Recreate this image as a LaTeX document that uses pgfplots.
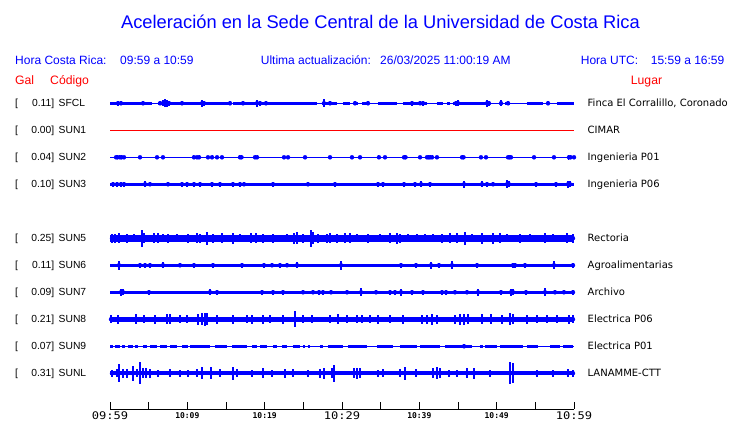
\documentclass[border=0pt]{standalone}
\usepackage{fontspec}
\setmainfont{Liberation Sans}
\newfontfamily\dejavu{DejaVu Sans}
\newfontfamily\monof{DejaVu Sans Mono}
\newfontfamily\monowide[FakeStretch=1.15]{DejaVu Sans Mono}
\usepackage{pgfplots}
\pgfplotsset{compat=1.18}
\definecolor{tblue}{RGB}{0,0,255}
\definecolor{tred}{RGB}{255,0,0}
\pgfplotsset{
  spk/.style={tblue, only marks, mark=none,
    error bars/.cd, y dir=both, y explicit, error mark=none,
    error bar style={line width=#1, tblue}},
  spk/.default=1.3pt,
}
\newcommand{\bigtick}[1]{{\monowide\fontsize{10.5}{12}\selectfont #1}}
\newcommand{\smalltick}[1]{\raisebox{1.7pt}{\monof\bfseries\fontsize{8}{9}\selectfont #1}}
\newcommand{\trow}[4]{%
  \node[anchor=base west, inner sep=0] at (15,#1) {[};
  \node[anchor=base east, inner sep=0] at (54.5,#1) {#2]};
  \node[anchor=base west, inner sep=0] at (58.5,#1) {#3};
  \node[anchor=base west, inner sep=0, font=\dejavu\fontsize{10}{12}\selectfont] at (587.5,#1) {#4};}
\begin{document}
\begin{tikzpicture}[x=1pt,y=1pt]
\path[use as bounding box] (0,0) rectangle (740,423);
% Titles
\node[anchor=base, inner sep=0, text=tblue, font=\fontsize{18.3}{22}\selectfont] at (380.5,394) {Aceleración en la Sede Central de la Universidad de Costa Rica};
\begin{scope}[every node/.style={anchor=base west, inner sep=0, text=tblue, font=\fontsize{12}{14}\selectfont}]
\node at (15,358) {Hora Costa Rica:};
\node at (120,358) {09:59 a 10:59};
\node at (260.7,358) {Ultima actualización:};
\node at (380,358) {26/03/2025 11:00:19 AM};
\node at (580.7,358) {Hora UTC:};
\node at (650.7,358) {15:59 a 16:59};
\end{scope}
\begin{scope}[every node/.style={anchor=base west, inner sep=0, text=tred, font=\fontsize{12.2}{14}\selectfont}]
\node at (15,338.7) {Gal};
\node at (50,338.7) {Código};
\node at (630.7,338.7) {Lugar};
\end{scope}
\begin{scope}[every node/.style={font=\fontsize{10.3}{12}\selectfont}]
\trow{316.2}{0.11}{SFCL}{Finca El Corralillo, Coronado}
\trow{289.2}{0.00}{SUN1}{CIMAR}
\trow{262.2}{0.04}{SUN2}{Ingenieria P01}
\trow{235.2}{0.10}{SUN3}{Ingenieria P06}
\trow{181.2}{0.25}{SUN5}{Rectoria}
\trow{154.2}{0.11}{SUN6}{Agroalimentarias}
\trow{127.2}{0.09}{SUN7}{Archivo}
\trow{100.2}{0.21}{SUN8}{Electrica P06}
\trow{73.2}{0.07}{SUN9}{Electrica P01}
\trow{46.2}{0.31}{SUNL}{LANAMME-CTT}
\end{scope}
\begin{axis}[
  at={(110pt,14pt)}, anchor=south west,
  scale only axis, width=464pt, height=319pt,
  xmin=0, xmax=60, ymin=-409, ymax=-90,
  clip=false,
  axis x line=bottom, axis y line=none,
  axis line style={-, black, line width=0.9pt},
  xtick={0,5,...,60},
  xticklabels={\bigtick{09:59},,\smalltick{10:09},,\smalltick{10:19},,\bigtick{10:29},,\smalltick{10:39},,\smalltick{10:49},,\bigtick{10:59}},
  xtick align=inside,
  major tick length=7pt,
  every tick/.style={black, line width=0.9pt},
  xticklabel style={anchor=base, inner sep=0pt, yshift=-11pt},
]
% ---- SFCL ----
\addplot[tblue, line width=1pt] coordinates {(0,-103.3) (60,-103.3)};
\addplot[tblue, line width=3pt, unbounded coords=jump] coordinates {
(0,-103.3) (5.43,-103.3) (5.43,nan)
(6.21,-103.3) (15.52,-103.3) (15.52,nan)
(15.9,-103.3) (26.77,-103.3) (26.77,nan)
(27.41,-103.3) (29.35,-103.3) (29.35,nan)
(30.13,-103.3) (31.03,-103.3) (31.03,nan)
(31.68,-103.3) (32.07,-103.3) (32.07,nan)
(32.59,-103.3) (33.36,-103.3) (33.36,nan)
(34.66,-103.3) (37.11,-103.3) (37.11,nan)
(37.89,-103.3) (40.99,-103.3) (40.99,nan)
(42.28,-103.3) (43.06,-103.3) (43.06,nan)
(43.58,-103.3) (43.97,-103.3) (43.97,nan)
(44.35,-103.3) (49.14,-103.3) (49.14,nan)
(51.08,-103.3) (51.72,-103.3) (51.72,nan)
(53.92,-103.3) (55.99,-103.3) (55.99,nan)
(57.8,-103.3) (60,-103.3)};
\addplot[spk] coordinates {
(1.03,-103.3) +- (0,2.5) (1.42,-103.3) +- (0,2) (4.27,-103.3) +- (0,2)
(6.47,-103.3) +- (0,2) (6.85,-103.3) +- (0,3) (7.11,-103.3) +- (0,4)
(7.37,-103.3) +- (0,3.5) (7.63,-103.3) +- (0,2.5) (9.31,-103.3) +- (0,2)
(11.90,-103.3) +- (0,3.5) (12.15,-103.3) +- (0,2.5) (15.52,-103.3) +- (0,2)
(17.2,-103.3) +- (0,2) (19.01,-103.3) +- (0,3.5) (19.4,-103.3) +- (0,2.5)
(20.17,-103.3) +- (0,2) (27.67,-103.3) +- (0,4) (28.45,-103.3) +- (0,2)
(31.68,-103.3) +- (0,2) (33.36,-103.3) +- (0,2) (39.05,-103.3) +- (0,2.5)
(40.09,-103.3) +- (0,2) (40.47,-103.3) +- (0,2.5) (44.74,-103.3) +- (0,2.5)
(45.0,-103.3) +- (0,3) (48.75,-103.3) +- (0,3.5) (49.0,-103.3) +- (0,2.5)
(50.56,-103.3) +- (0,3) (51.47,-103.3) +- (0,2) (56.64,-103.3) +- (0,2)};
% ---- SUN1 ----
\addplot[tred, line width=1.3pt] coordinates {(0,-130.3) (60,-130.3)};
% ---- SUN2 ----
\addplot[tblue, line width=1.2pt] coordinates {(0,-157.3) (60,-157.3)};
\addplot[spk=1pt] coordinates {
(0.78,-157.3) +- (0,2) (0.97,-157.3) +- (0,2) (1.29,-157.3) +- (0,2)
(1.49,-157.3) +- (0,2) (1.81,-157.3) +- (0,1.7) (3.88,-157.3) +- (0,1.7)
(6.08,-157.3) +- (0,1.7) (6.85,-157.3) +- (0,1.3) (10.86,-157.3) +- (0,2)
(11.25,-157.3) +- (0,1.7) (11.51,-157.3) +- (0,2) (12.67,-157.3) +- (0,1.5)
(13.19,-157.3) +- (0,2) (13.84,-157.3) +- (0,1.7) (14.48,-157.3) +- (0,1.7)
(16.81,-157.3) +- (0,2) (17.0,-157.3) +- (0,2) (18.75,-157.3) +- (0,2)
(19.01,-157.3) +- (0,2) (22.5,-157.3) +- (0,1.7) (23.02,-157.3) +- (0,1.5)
(25.22,-157.3) +- (0,1.7) (28.45,-157.3) +- (0,1.5) (31.29,-157.3) +- (0,1.7)
(32.33,-157.3) +- (0,1.5) (34.78,-157.3) +- (0,2) (35.56,-157.3) +- (0,1.7)
(38.02,-157.3) +- (0,2) (38.21,-157.3) +- (0,2) (40.09,-157.3) +- (0,1.5)
(40.99,-157.3) +- (0,1.7) (41.19,-157.3) +- (0,2) (41.38,-157.3) +- (0,2)
(41.64,-157.3) +- (0,2) (42.28,-157.3) +- (0,1.7) (45.52,-157.3) +- (0,2)
(45.71,-157.3) +- (0,1.7) (47.97,-157.3) +- (0,1.7) (48.62,-157.3) +- (0,1.7)
(51.47,-157.3) +- (0,2) (51.66,-157.3) +- (0,2) (51.85,-157.3) +- (0,2)
(54.83,-157.3) +- (0,1.5) (57.41,-157.3) +- (0,1.7) (59.35,-157.3) +- (0,2.5)
(59.55,-157.3) +- (0,2) (60.0,-157.3) +- (0,1.5)};
% ---- SUN3 ----
\addplot[tblue, line width=3pt] coordinates {(0,-184.3) (60,-184.3)};
\addplot[spk] coordinates {
(0.39,-184.3) +- (0,2.5) (0.91,-184.3) +- (0,2.5) (1.42,-184.3) +- (0,2.5)
(1.81,-184.3) +- (0,2.5) (4.53,-184.3) +- (0,3) (5.17,-184.3) +- (0,2)
(7.5,-184.3) +- (0,2) (9.31,-184.3) +- (0,2.5) (9.96,-184.3) +- (0,2.5)
(10.86,-184.3) +- (0,2.5) (11.64,-184.3) +- (0,2.5) (13.19,-184.3) +- (0,2.5)
(14.22,-184.3) +- (0,2.5) (15.9,-184.3) +- (0,2.5) (16.81,-184.3) +- (0,2.5)
(17.33,-184.3) +- (0,2) (21.08,-184.3) +- (0,2.5) (25.6,-184.3) +- (0,2)
(29.09,-184.3) +- (0,2.5) (34.66,-184.3) +- (0,2.5) (35.3,-184.3) +- (0,2.5)
(38.02,-184.3) +- (0,2.5) (39.44,-184.3) +- (0,2.5) (40.22,-184.3) +- (0,3)
(41.38,-184.3) +- (0,2.5) (45.78,-184.3) +- (0,3.5) (48.1,-184.3) +- (0,3)
(48.75,-184.3) +- (0,2.5) (49.53,-184.3) +- (0,2) (51.34,-184.3) +- (0,4)
(51.59,-184.3) +- (0,3) (55.09,-184.3) +- (0,2.5) (57.67,-184.3) +- (0,2.5)
(59.22,-184.3) +- (0,3.5) (59.48,-184.3) +- (0,3)};
% ---- SUN5 ----
\addplot[tblue, line width=6.5pt] coordinates {(0,-238.3) (60,-238.3)};
\addplot[spk=1.6pt] coordinates {
(0.26,-238.3) +- (0,4.5) (0.65,-238.3) +- (0,4.5) (1.16,-238.3) +- (0,5)
(2.2,-238.3) +- (0,4.5) (3.1,-238.3) +- (0,4) (4.14,-238.3) +- (0,8.5)
(4.4,-238.3) +- (0,5) (5.69,-238.3) +- (0,5) (6.21,-238.3) +- (0,5)
(6.85,-238.3) +- (0,4) (7.5,-238.3) +- (0,4.5) (8.66,-238.3) +- (0,4)
(10.09,-238.3) +- (0,4.5) (11.25,-238.3) +- (0,5) (11.64,-238.3) +- (0,4.5)
(12.54,-238.3) +- (0,6.5) (13.32,-238.3) +- (0,4.5) (14.48,-238.3) +- (0,5)
(15.9,-238.3) +- (0,5.5) (16.81,-238.3) +- (0,4) (18.23,-238.3) +- (0,5)
(18.88,-238.3) +- (0,5) (19.78,-238.3) +- (0,4.5) (21.08,-238.3) +- (0,4.5)
(22.89,-238.3) +- (0,4) (23.79,-238.3) +- (0,5.5) (24.18,-238.3) +- (0,6)
(24.96,-238.3) +- (0,4.5) (25.99,-238.3) +- (0,8.7) (26.25,-238.3) +- (0,6)
(26.9,-238.3) +- (0,4.5) (28.06,-238.3) +- (0,4.5) (28.45,-238.3) +- (0,5)
(29.35,-238.3) +- (0,4.5) (30.39,-238.3) +- (0,5) (31.03,-238.3) +- (0,5)
(31.94,-238.3) +- (0,4) (33.36,-238.3) +- (0,4.5) (34.91,-238.3) +- (0,4)
(36.21,-238.3) +- (0,5) (37.11,-238.3) +- (0,5.5) (37.5,-238.3) +- (0,4.5)
(38.53,-238.3) +- (0,4) (39.7,-238.3) +- (0,4) (40.73,-238.3) +- (0,4)
(41.77,-238.3) +- (0,4) (42.93,-238.3) +- (0,4.5) (43.97,-238.3) +- (0,5)
(44.87,-238.3) +- (0,5) (45.91,-238.3) +- (0,6.5) (46.81,-238.3) +- (0,4)
(48.1,-238.3) +- (0,5.5) (49.53,-238.3) +- (0,5.5) (50.43,-238.3) +- (0,5)
(51.34,-238.3) +- (0,4) (53.02,-238.3) +- (0,4.5) (54.31,-238.3) +- (0,4)
(56.25,-238.3) +- (0,5) (57.28,-238.3) +- (0,4) (59.09,-238.3) +- (0,5)
(59.87,-238.3) +- (0,4.5)};
% ---- SUN6 ----
\addplot[tblue, line width=3pt] coordinates {(0,-265.3) (60,-265.3)};
\addplot[spk] coordinates {
(1.16,-265.3) +- (0,4.5) (3.88,-265.3) +- (0,2.5) (4.53,-265.3) +- (0,2.5)
(5.17,-265.3) +- (0,2.5) (6.85,-265.3) +- (0,3) (9.05,-265.3) +- (0,2)
(10.86,-265.3) +- (0,2.5) (13.32,-265.3) +- (0,2.5) (17.07,-265.3) +- (0,2.5)
(19.91,-265.3) +- (0,2.5) (20.95,-265.3) +- (0,2) (21.98,-265.3) +- (0,2.5)
(22.89,-265.3) +- (0,2) (24.18,-265.3) +- (0,3) (29.87,-265.3) +- (0,4.5)
(37.63,-265.3) +- (0,2.5) (39.57,-265.3) +- (0,2.5) (41.51,-265.3) +- (0,3.5)
(42.54,-265.3) +- (0,2.5) (44.22,-265.3) +- (0,4) (47.46,-265.3) +- (0,2.5)
(52.11,-265.3) +- (0,2.5) (52.37,-265.3) +- (0,2.5) (53.66,-265.3) +- (0,2.5)
(57.41,-265.3) +- (0,4) (59.87,-265.3) +- (0,2.5)};
% ---- SUN7 ----
\addplot[tblue, line width=3pt] coordinates {(0,-292.3) (60,-292.3)};
\addplot[spk] coordinates {
(1.42,-292.3) +- (0,3.5) (1.68,-292.3) +- (0,3) (5.04,-292.3) +- (0,2.5)
(12.93,-292.3) +- (0,3) (13.84,-292.3) +- (0,2.5) (19.66,-292.3) +- (0,2.5)
(21.08,-292.3) +- (0,2.5) (22.37,-292.3) +- (0,2.5) (24.96,-292.3) +- (0,2)
(26.25,-292.3) +- (0,2) (27.03,-292.3) +- (0,2.5) (27.54,-292.3) +- (0,2.5)
(28.58,-292.3) +- (0,2) (30.65,-292.3) +- (0,2) (32.46,-292.3) +- (0,4)
(34.4,-292.3) +- (0,2) (36.21,-292.3) +- (0,2.5) (36.85,-292.3) +- (0,2.5)
(37.63,-292.3) +- (0,3.5) (39.05,-292.3) +- (0,2.5) (40.47,-292.3) +- (0,2.5)
(42.93,-292.3) +- (0,2.5) (43.45,-292.3) +- (0,2.5) (44.61,-292.3) +- (0,2)
(46.16,-292.3) +- (0,2) (47.59,-292.3) +- (0,3.5) (50.56,-292.3) +- (0,2.5)
(51.85,-292.3) +- (0,3.5) (52.11,-292.3) +- (0,3) (53.79,-292.3) +- (0,2.5)
(56.25,-292.3) +- (0,4) (57.54,-292.3) +- (0,2) (58.7,-292.3) +- (0,2)
(59.87,-292.3) +- (0,2.5)};
% ---- SUN8 ----
\addplot[tblue, line width=5pt] coordinates {(0,-319.3) (60,-319.3)};
\addplot[spk=1.5pt] coordinates {
(0.13,-319.3) +- (0,4) (1.03,-319.3) +- (0,4.5) (3.36,-319.3) +- (0,5)
(4.4,-319.3) +- (0,4) (5.82,-319.3) +- (0,4.5) (7.37,-319.3) +- (0,5)
(7.76,-319.3) +- (0,5) (9.05,-319.3) +- (0,4) (9.96,-319.3) +- (0,4)
(11.38,-319.3) +- (0,5.5) (11.9,-319.3) +- (0,6) (12.28,-319.3) +- (0,6.5)
(12.54,-319.3) +- (0,6) (13.84,-319.3) +- (0,4.5) (15.9,-319.3) +- (0,4.5)
(17.72,-319.3) +- (0,4) (18.36,-319.3) +- (0,4.5) (19.78,-319.3) +- (0,4.5)
(20.69,-319.3) +- (0,4) (22.37,-319.3) +- (0,4.5) (23.92,-319.3) +- (0,8)
(24.96,-319.3) +- (0,4) (26.12,-319.3) +- (0,4) (28.45,-319.3) +- (0,4)
(29.48,-319.3) +- (0,5) (30.65,-319.3) +- (0,4) (31.94,-319.3) +- (0,4)
(32.59,-319.3) +- (0,4) (33.62,-319.3) +- (0,4) (34.66,-319.3) +- (0,4.5)
(36.21,-319.3) +- (0,4) (37.89,-319.3) +- (0,4.5) (40.34,-319.3) +- (0,4.5)
(40.99,-319.3) +- (0,4.5) (41.64,-319.3) +- (0,5.5) (42.28,-319.3) +- (0,4.5)
(44.61,-319.3) +- (0,4.5) (45.26,-319.3) +- (0,5.5) (45.78,-319.3) +- (0,5.5)
(46.29,-319.3) +- (0,5) (48.1,-319.3) +- (0,5) (49.27,-319.3) +- (0,5)
(50.69,-319.3) +- (0,4.5) (51.72,-319.3) +- (0,6) (52.11,-319.3) +- (0,5)
(53.92,-319.3) +- (0,4.5) (55.21,-319.3) +- (0,4) (56.51,-319.3) +- (0,4)
(57.8,-319.3) +- (0,4) (59.35,-319.3) +- (0,4.5) (59.87,-319.3) +- (0,4)};
% ---- SUN9 ----
\addplot[tblue, line width=1.2pt] coordinates {(0,-346.3) (60,-346.3)};
\addplot[tblue, line width=2.7pt, unbounded coords=jump] coordinates {
(0,-346.3) (0.39,-346.3) (0.39,nan)
(0.65,-346.3) (1.29,-346.3) (1.29,nan)
(1.55,-346.3) (1.94,-346.3) (1.94,nan)
(2.33,-346.3) (2.97,-346.3) (2.97,nan)
(3.23,-346.3) (3.62,-346.3) (3.62,nan)
(4.27,-346.3) (4.78,-346.3) (4.78,nan)
(5.17,-346.3) (6.08,-346.3) (6.08,nan)
(6.47,-346.3) (7.37,-346.3) (7.37,nan)
(7.76,-346.3) (8.66,-346.3) (8.66,nan)
(9.31,-346.3) (10.09,-346.3) (10.09,nan)
(10.34,-346.3) (12.93,-346.3) (12.93,nan)
(13.58,-346.3) (15.13,-346.3) (15.13,nan)
(15.78,-346.3) (17.72,-346.3) (17.72,nan)
(18.36,-346.3) (19.01,-346.3) (19.01,nan)
(19.4,-346.3) (20.3,-346.3) (20.3,nan)
(21.08,-346.3) (21.59,-346.3) (21.59,nan)
(22.24,-346.3) (22.89,-346.3) (22.89,nan)
(23.66,-346.3) (24.57,-346.3) (24.57,nan)
(24.96,-346.3) (25.22,-346.3) (25.22,nan)
(25.6,-346.3) (25.86,-346.3) (25.86,nan)
(27.15,-346.3) (27.54,-346.3) (27.54,nan)
(28.19,-346.3) (30.13,-346.3) (30.13,nan)
(30.78,-346.3) (33.23,-346.3) (33.23,nan)
(34.53,-346.3) (36.59,-346.3) (36.59,nan)
(37.5,-346.3) (39.7,-346.3) (39.7,nan)
(40.09,-346.3) (42.67,-346.3) (42.67,nan)
(43.32,-346.3) (46.81,-346.3) (46.81,nan)
(47.84,-346.3) (48.23,-346.3) (48.23,nan)
(48.49,-346.3) (50.04,-346.3) (50.04,nan)
(50.43,-346.3) (53.41,-346.3) (53.41,nan)
(53.92,-346.3) (55.34,-346.3) (55.34,nan)
(56.9,-346.3) (58.19,-346.3) (58.19,nan)
(58.58,-346.3) (59.87,-346.3)};
\addplot[spk] coordinates {(45.78,-346.3) +- (0,2)};
% ---- SUNL ----
\addplot[tblue, line width=4.3pt] coordinates {(0,-373.3) (60,-373.3)};
\addplot[spk=1.4pt] coordinates {
(0.26,-373.3) +- (0,3.5) (0.91,-373.3) +- (0,4) (1.16,-373.3) +- (0,9)
(1.68,-373.3) +- (0,4.5) (2.2,-373.3) +- (0,4.5) (2.97,-373.3) +- (0,7.5)
(3.49,-373.3) +- (0,4) (3.88,-373.3) +- (0,10.8) (4.27,-373.3) +- (0,5)
(4.66,-373.3) +- (0,5) (5.17,-373.3) +- (0,4.5) (6.21,-373.3) +- (0,3.5)
(7.76,-373.3) +- (0,4) (9.05,-373.3) +- (0,3.5) (10.09,-373.3) +- (0,3.5)
(11.25,-373.3) +- (0,4) (11.9,-373.3) +- (0,6) (13.06,-373.3) +- (0,6)
(14.22,-373.3) +- (0,4) (15.9,-373.3) +- (0,6.5) (16.42,-373.3) +- (0,4)
(18.36,-373.3) +- (0,3.5) (19.78,-373.3) +- (0,5) (20.95,-373.3) +- (0,3.5)
(22.63,-373.3) +- (0,4.5) (23.66,-373.3) +- (0,4) (25.6,-373.3) +- (0,3.5)
(27.15,-373.3) +- (0,4.5) (27.67,-373.3) +- (0,5.5) (28.71,-373.3) +- (0,5)
(28.97,-373.3) +- (0,8.3) (31.55,-373.3) +- (0,5) (31.94,-373.3) +- (0,5.5)
(32.33,-373.3) +- (0,5) (34.66,-373.3) +- (0,3.5) (35.3,-373.3) +- (0,4)
(37.5,-373.3) +- (0,4) (38.15,-373.3) +- (0,6.7) (39.57,-373.3) +- (0,4)
(41.77,-373.3) +- (0,5) (42.28,-373.3) +- (0,6) (42.67,-373.3) +- (0,5)
(43.84,-373.3) +- (0,3.5) (44.87,-373.3) +- (0,3.5) (46.16,-373.3) +- (0,5)
(47.07,-373.3) +- (0,5.5) (49.14,-373.3) +- (0,3.5) (51.72,-373.3) +- (0,11)
(52.11,-373.3) +- (0,10) (55.21,-373.3) +- (0,3.5) (57.28,-373.3) +- (0,3.5)
(59.22,-373.3) +- (0,4) (59.87,-373.3) +- (0,3.5)};
\end{axis}
\end{tikzpicture}
\end{document}
